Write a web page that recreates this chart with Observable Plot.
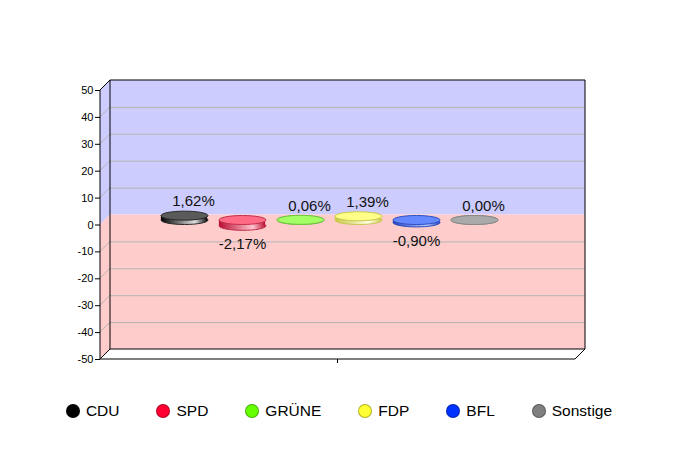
<!DOCTYPE html>
<html>
<head>
<meta charset="utf-8">
<script src="https://cdn.jsdelivr.net/npm/d3@7"></script>
<script src="https://cdn.jsdelivr.net/npm/@observablehq/plot@0.6"></script>
<style>
  body { margin: 0; background: white; font-family: "Liberation Sans", Arial, sans-serif; }
  #legend { width: 678px; display: flex; justify-content: center; gap: 37px; margin-top: 21px; font-size: 15.5px; line-height: 20px; }
  .item { display: flex; align-items: center; gap: 6px; }
  .sw { width: 12px; height: 12px; border-radius: 50%; border: 1px solid rgba(0,0,0,0.3); box-sizing: content-box; }
</style>
</head>
<body>
<div id="chart"></div>
<div id="legend"></div>
<script>
const parties = ["CDU", "SPD", "GRÜNE", "FDP", "BFL", "Sonstige"];
const values = [1.62, -2.17, 0.06, 1.39, -0.90, 0.00];
const topColors = ["#5a5a5a", "#ff6a84", "#a4ff66", "#ffff88", "#6688ff", "#aaaaaa"];
const strokeColors = ["#2a2a2a", "#c0304c", "#70c040", "#c8c850", "#3050c0", "#888888"];
const sideDark = ["#000000", "#b80c30", "#50b020", "#c8c840", "#2040c0", "#707070"];
const sideLight = ["#e0e0e0", "#ffc4d0", "#e0ffd0", "#ffffe8", "#b8c8ff", "#e8e8e8"];
const legendColors = ["#000000", "#ff0033", "#66ff00", "#ffff33", "#0033ff", "#808080"];
const yTicks = [-50, -40, -30, -20, -10, 0, 10, 20, 30, 40, 50];
const gridTicks = [-40, -30, -20, -10, 10, 20, 30, 40];

const data = parties.map((p, i) => ({
  party: p, value: values[i], top: topColors[i], stroke: strokeColors[i], grad: `url(#grad${i})`
}));
const fmt = d => d.value.toFixed(2).replace(".", ",") + "%";
const D = 10;

const ellipse = {
  draw(ctx) {
    const rx = 23.5, ry = 4.5, k = 0.5523, kx = rx * k, ky = ry * k;
    ctx.moveTo(-rx, 0);
    ctx.bezierCurveTo(-rx, -ky, -kx, -ry, 0, -ry);
    ctx.bezierCurveTo(kx, -ry, rx, -ky, rx, 0);
    ctx.bezierCurveTo(rx, ky, kx, ry, 0, ry);
    ctx.bezierCurveTo(-kx, ry, -rx, ky, -rx, 0);
    ctx.closePath();
  }
};

function walls(index, scales, values, dims) {
  const ns = "http://www.w3.org/2000/svg";
  const y = scales.y;
  const L = dims.marginLeft, R = dims.width - dims.marginRight;
  const g = document.createElementNS(ns, "g");
  const el = (tag, attrs) => { const e = document.createElementNS(ns, tag); for (const k in attrs) e.setAttribute(k, attrs[k]); g.appendChild(e); return e; };
  const defs = el("defs", {});
  parties.forEach((p, i) => {
    const lg = document.createElementNS(ns, "linearGradient");
    lg.setAttribute("id", "grad" + i);
    lg.setAttribute("x1", "0"); lg.setAttribute("x2", "1"); lg.setAttribute("y1", "0"); lg.setAttribute("y2", "0");
    [[0, sideDark[i]], [0.72, sideLight[i]], [1, sideDark[i]]].forEach(([o, c]) => {
      const s = document.createElementNS(ns, "stop");
      s.setAttribute("offset", o); s.setAttribute("stop-color", c);
      lg.appendChild(s);
    });
    defs.appendChild(lg);
  });
  const y50 = y(50), y0 = y(0), ym = y(-50);
  el("polygon", {points: `${L},${y50} ${L + D},${y50 - D} ${L + D},${y0 - D} ${L},${y0}`, fill: "#ccccff"});
  el("polygon", {points: `${L},${y0} ${L + D},${y0 - D} ${L + D},${ym - D} ${L},${ym}`, fill: "#ffcccc"});
  gridTicks.forEach(t => el("line", {x1: L, y1: y(t), x2: L + D, y2: y(t) - D, stroke: "#b4b4b4"}));
  const black = {stroke: "#000", fill: "none", "stroke-width": 1};
  el("path", {d: `M${L + D},${ym - D}V${y50 - D}H${R + D}V${ym - D}H${L + D}`, ...black});
  el("path", {d: `M${L},${ym}V${y50}L${L + D},${y50 - D}`, ...black});
  el("path", {d: `M${L},${ym}L${L + D},${ym - D}`, ...black});
  el("path", {d: `M${L},${ym}H${R}L${R + D},${ym - D}`, ...black});
  const cx = (L + R) / 2;
  el("path", {d: `M${cx},${ym}V${ym + 4}`, ...black});
  return g;
}

const chart = Plot.plot({
  width: 678,
  height: 380,
  marginTop: 90,
  marginBottom: 21,
  marginLeft: 100,
  marginRight: 103,
  style: {fontFamily: "'Liberation Sans', Arial, sans-serif", fontSize: "11px", background: "white", color: "black"},
  x: {type: "band", domain: parties, range: [147.6, 500.4], padding: 0, axis: null},
  y: {domain: [-50, 50], axis: null},
  color: {type: "identity"},
  marks: [
    Plot.rect([0], {y1: 0, y2: 50, fill: "#ccccff", dx: D, dy: -D}),
    Plot.rect([0], {y1: -50, y2: 0, fill: "#ffcccc", dx: D, dy: -D}),
    Plot.ruleY(gridTicks, {stroke: "#b4b4b4", dx: D, dy: -D}),
    walls,
    Plot.dot(data, {x: "party", y: d => Math.min(0, d.value), symbol: ellipse, fill: "grad", stroke: "stroke", strokeWidth: 1, dx: 5, dy: -5}),
    Plot.barY(data, {x: "party", y1: d => Math.min(0, d.value), y2: d => Math.max(0, d.value), fill: "grad", insetLeft: 5.9, insetRight: 5.9, dx: 5, dy: -5}),
    Plot.dot(data, {x: "party", y: d => Math.max(0, d.value), symbol: ellipse, fill: "top", stroke: "stroke", strokeWidth: 1, dx: 5, dy: -5}),
    Plot.text(data.filter(d => d.value >= 0), {x: "party", y: "value", text: fmt, dx: 14, dy: -19, fontSize: 15, fill: "#111"}),
    Plot.text(data.filter(d => d.value < 0), {x: "party", y: "value", text: fmt, dx: 5, dy: 13.5, fontSize: 15, fill: "#111"}),
    Plot.axisY(yTicks, {tickSize: 5, tickPadding: 2, tickFormat: d => String(d), fontSize: 11, label: null, stroke: "#000"})
  ]
});
document.getElementById("chart").appendChild(chart);

const legend = document.getElementById("legend");
parties.forEach((p, i) => {
  const item = document.createElement("div");
  item.className = "item";
  const sw = document.createElement("span");
  sw.className = "sw";
  sw.style.background = legendColors[i];
  const t = document.createElement("span");
  t.textContent = p;
  item.appendChild(sw); item.appendChild(t);
  legend.appendChild(item);
});
</script>
</body>
</html>
